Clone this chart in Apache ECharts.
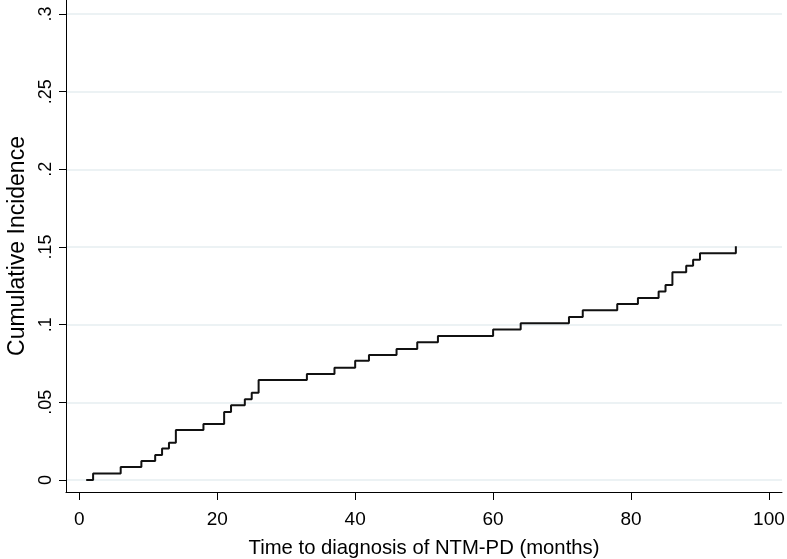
<!DOCTYPE html>
<html>
<head>
<meta charset="utf-8">
<script src="https://cdn.jsdelivr.net/npm/echarts@6/dist/echarts.min.js"></script>
<style>
html,body{margin:0;padding:0;background:#fff;}
#chart{width:787px;height:559px;}
</style>
</head>
<body>
<div id="chart"></div>
<script>
// Step times (months) and cumulative incidence values
const times = [1, 2, 6, 9, 11, 12, 13, 14, 18, 21, 22, 24, 25, 26, 33, 37, 40, 42, 46, 49, 52, 60, 64, 71, 73, 78, 81, 84, 85, 86, 88, 89, 90, 95.2];
const incidence = [0, 0.0042, 0.0083, 0.0122, 0.0161, 0.0202, 0.0240, 0.0322, 0.0361, 0.0438, 0.0481, 0.0520, 0.0562, 0.0644, 0.0683, 0.0723, 0.0767, 0.0805, 0.0844, 0.0886, 0.0927, 0.0969, 0.1009, 0.1049, 0.1093, 0.1133, 0.1172, 0.1214, 0.1255, 0.1337, 0.1379, 0.1418, 0.1460, 0.1505];

const xTickValues = [0, 20, 40, 60, 80, 100];
const yTickValues = [0, 0.05, 0.1, 0.15, 0.2, 0.25, 0.3];
const yTickLabels = ['0', '.05', '.1', '.15', '.2', '.25', '.3'];

const xTitle = 'Time to diagnosis of NTM-PD (months)';
const yTitle = 'Cumulative Incidence';

const seriesData = times.map((t, i) => [t, incidence[i]]);

const chart = echarts.init(document.getElementById('chart'), null, {renderer: 'canvas'});
const font = 'Liberation Sans, Arial, sans-serif';

chart.setOption({
  animation: false,
  backgroundColor: '#ffffff',
  grid: {left: 66, right: 5, top: 0, bottom: 67, containLabel: false, outerBoundsMode: 'none'},
  xAxis: {
    type: 'value',
    min: -1.93,
    max: 101.89,
    name: xTitle,
    nameLocation: 'middle',
    nameGap: 46,
    nameTextStyle: {fontFamily: font, fontSize: 20.3, color: '#000'},
    axisLine: {show: true, onZero: false, lineStyle: {color: '#000', width: 1}},
    axisTick: {show: true, length: 8, customValues: xTickValues, lineStyle: {color: '#000'}},
    axisLabel: {customValues: xTickValues, margin: 18, fontFamily: font, fontSize: 19, color: '#000'},
    splitLine: {show: false}
  },
  yAxis: {
    type: 'value',
    min: -0.00773,
    max: 0.30902,
    name: yTitle,
    nameLocation: 'middle',
    nameGap: 36,
    nameRotate: 90,
    nameTextStyle: {fontFamily: font, fontSize: 23, color: '#000'},
    axisLine: {show: true, onZero: false, lineStyle: {color: '#000', width: 1}},
    axisTick: {show: true, length: 7, customValues: yTickValues, lineStyle: {color: '#000'}},
    axisLabel: {
      customValues: yTickValues,
      rotate: 90,
      margin: 11,
      fontFamily: font, fontSize: 18, color: '#000',
      formatter: function (v) {
        for (let i = 0; i < yTickValues.length; i++) {
          if (Math.abs(yTickValues[i] - v) < 1e-9) return yTickLabels[i];
        }
        return '';
      }
    },
    splitLine: {show: true, lineStyle: {color: '#e6eef0', width: 1.5}}
  },
  series: [{
    type: 'line',
    step: 'end',
    data: seriesData,
    showSymbol: false,
    symbol: 'none',
    lineStyle: {color: '#111', width: 2},
    z: 5
  }]
});
</script>
</body>
</html>
